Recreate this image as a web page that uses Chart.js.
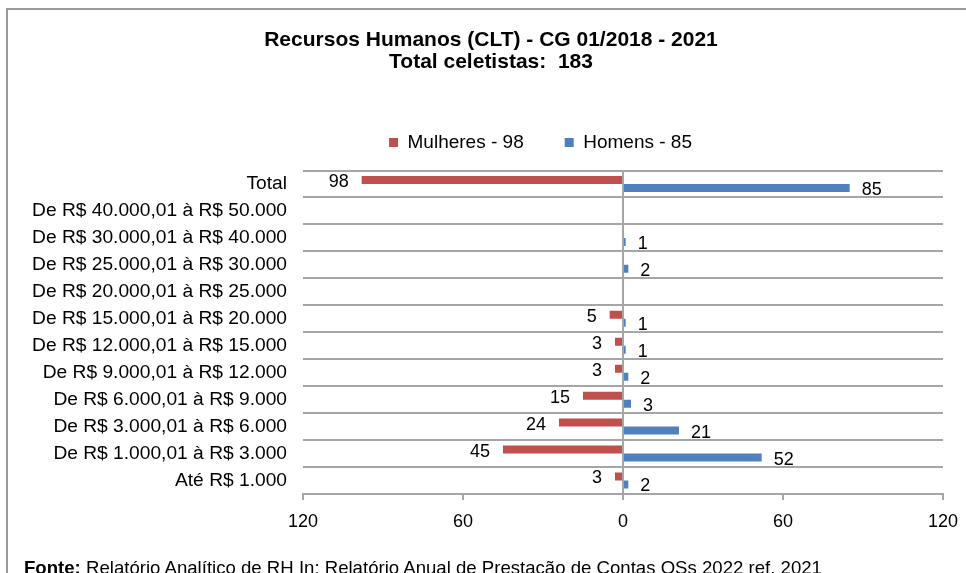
<!DOCTYPE html>
<html><head><meta charset="utf-8">
<script src="https://cdn.jsdelivr.net/npm/chart.js@4/dist/chart.umd.min.js"></script>
<style>
html,body{margin:0;padding:0;background:#fff;overflow:hidden;width:966px;height:573px;}
#frame{position:absolute;left:6px;top:8px;width:1000px;height:1000px;border:2px solid #9a9a9a;box-sizing:border-box;}
#wrap{position:absolute;left:0;top:0;width:966px;height:573px;}
#src{position:absolute;left:24px;top:557px;font:18.6px "Liberation Sans",Arial,sans-serif;white-space:nowrap;color:#000;}
</style></head><body>
<div id="frame"></div>
<div id="wrap"><canvas id="c" width="966" height="573"></canvas></div>
<div id="src"><b>Fonte:</b> Relatório Analítico de RH In: Relatório Anual de Prestação de Contas OSs 2022 ref. 2021</div>
<script>
const titleLines = ['Recursos Humanos (CLT) - CG 01/2018 - 2021', 'Total celetistas:  183'];
const categories = [
  'Total',
  'De R$ 40.000,01 à R$ 50.000',
  'De R$ 30.000,01 à R$ 40.000',
  'De R$ 25.000,01 à R$ 30.000',
  'De R$ 20.000,01 à R$ 25.000',
  'De R$ 15.000,01 à R$ 20.000',
  'De R$ 12.000,01 à R$ 15.000',
  'De R$ 9.000,01 à R$ 12.000',
  'De R$ 6.000,01 à R$ 9.000',
  'De R$ 3.000,01 à R$ 6.000',
  'De R$ 1.000,01 à R$ 3.000',
  'Até R$ 1.000'
];
const seriesLabels = ['Mulheres - 98', 'Homens - 85'];
const mulheres = [98, 0, 0, 0, 0, 5, 3, 3, 15, 24, 45, 3];
const homens   = [85, 0, 1, 2, 0, 1, 1, 2, 3, 21, 52, 2];
const xMin = -120, xMax = 120, xStep = 60;

const FONT = '"Liberation Sans", Arial, sans-serif';
const GRAY = '#a6a6a6';
const RED = '#C0504D';
const BLUE = '#4F81BD';

const valueLabels = {
  id: 'valueLabels',
  afterDatasetsDraw(chart) {
    const ctx = chart.ctx;
    ctx.save();
    ctx.font = '18px ' + FONT;
    ctx.fillStyle = '#000';
    ctx.textBaseline = 'middle';
    chart.data.datasets.forEach((ds, i) => {
      const meta = chart.getDatasetMeta(i);
      meta.data.forEach((el, j) => {
        const v = ds.data[j];
        if (!v) return;
        if (v < 0) { ctx.textAlign = 'right'; ctx.fillText(String(-v), el.x - 13, el.y + 2); }
        else { ctx.textAlign = 'left'; ctx.fillText(String(v), el.x + 12, el.y + 2); }
      });
    });
    ctx.restore();
  }
};

const boxTweak = {
  id: 'boxTweak',
  afterInit(chart) {
    const lg = chart.legend;
    if (!lg) return;
    const fit = lg.fit;
    lg.fit = function () { fit.call(this); this.height += 8.5; };
  },
  afterLayout(chart) {
    const lg = chart.legend;
    if (lg) {
      const d = 540.5 - (lg.left + lg.right) / 2;
      lg.left += d; lg.right += d;
    }
    const tt = chart.titleBlock;
    if (tt) {
      const d2 = 491 - (tt.left + tt.right) / 2;
      tt.left += d2; tt.right += d2;
    }
  }
};

new Chart(document.getElementById('c'), {
  type: 'bar',
  data: {
    labels: categories,
    datasets: [
      { label: seriesLabels[0], data: mulheres.map(v => -v), backgroundColor: RED, borderWidth: 0,
        categoryPercentage: 16 / 27, barPercentage: 1 },
      { label: seriesLabels[1], data: homens, backgroundColor: BLUE, borderWidth: 0,
        categoryPercentage: 16 / 27, barPercentage: 1 }
    ]
  },
  options: {
    indexAxis: 'y',
    responsive: false,
    animation: false,
    layout: { padding: { left: 0, right: 23, top: 0, bottom: 0 } },
    plugins: {
      title: {
        display: true, text: titleLines, color: '#000',
        font: { family: FONT, size: 21, weight: 'bold', lineHeight: 1.05 },
        padding: { top: 29, bottom: 18.9 }
      },
      legend: {
        display: true, position: 'top', align: 'center',
        labels: { boxWidth: 9, boxHeight: 9, padding: 41, color: '#000', font: { family: FONT, size: 19 } }
      },
      tooltip: { enabled: false }
    },
    scales: {
      x: {
        min: xMin, max: xMax,
        ticks: { stepSize: xStep, callback: v => Math.abs(v), color: '#000', font: { family: FONT, size: 18 }, padding: 11, maxRotation: 0 },
        grid: {
          color: c => (c.tick && c.tick.value === 0) ? GRAY : 'rgba(0,0,0,0)',
          tickColor: GRAY, tickLength: 6, lineWidth: 2, drawOnChartArea: true
        },
        border: { display: true, color: GRAY, width: 2 },
        afterFit: s => { s.height = 79; s.paddingRight = 0; s.paddingLeft = 0; }
      },
      y: {
        ticks: { color: '#000', font: { family: FONT, size: 19.2 }, padding: 16, autoSkip: false },
        grid: { color: GRAY, lineWidth: 2, drawTicks: false, offset: true },
        border: { display: false },
        afterFit: s => { s.width = 303; }
      }
    }
  },
  plugins: [valueLabels, boxTweak]
});
</script>
</body></html>
